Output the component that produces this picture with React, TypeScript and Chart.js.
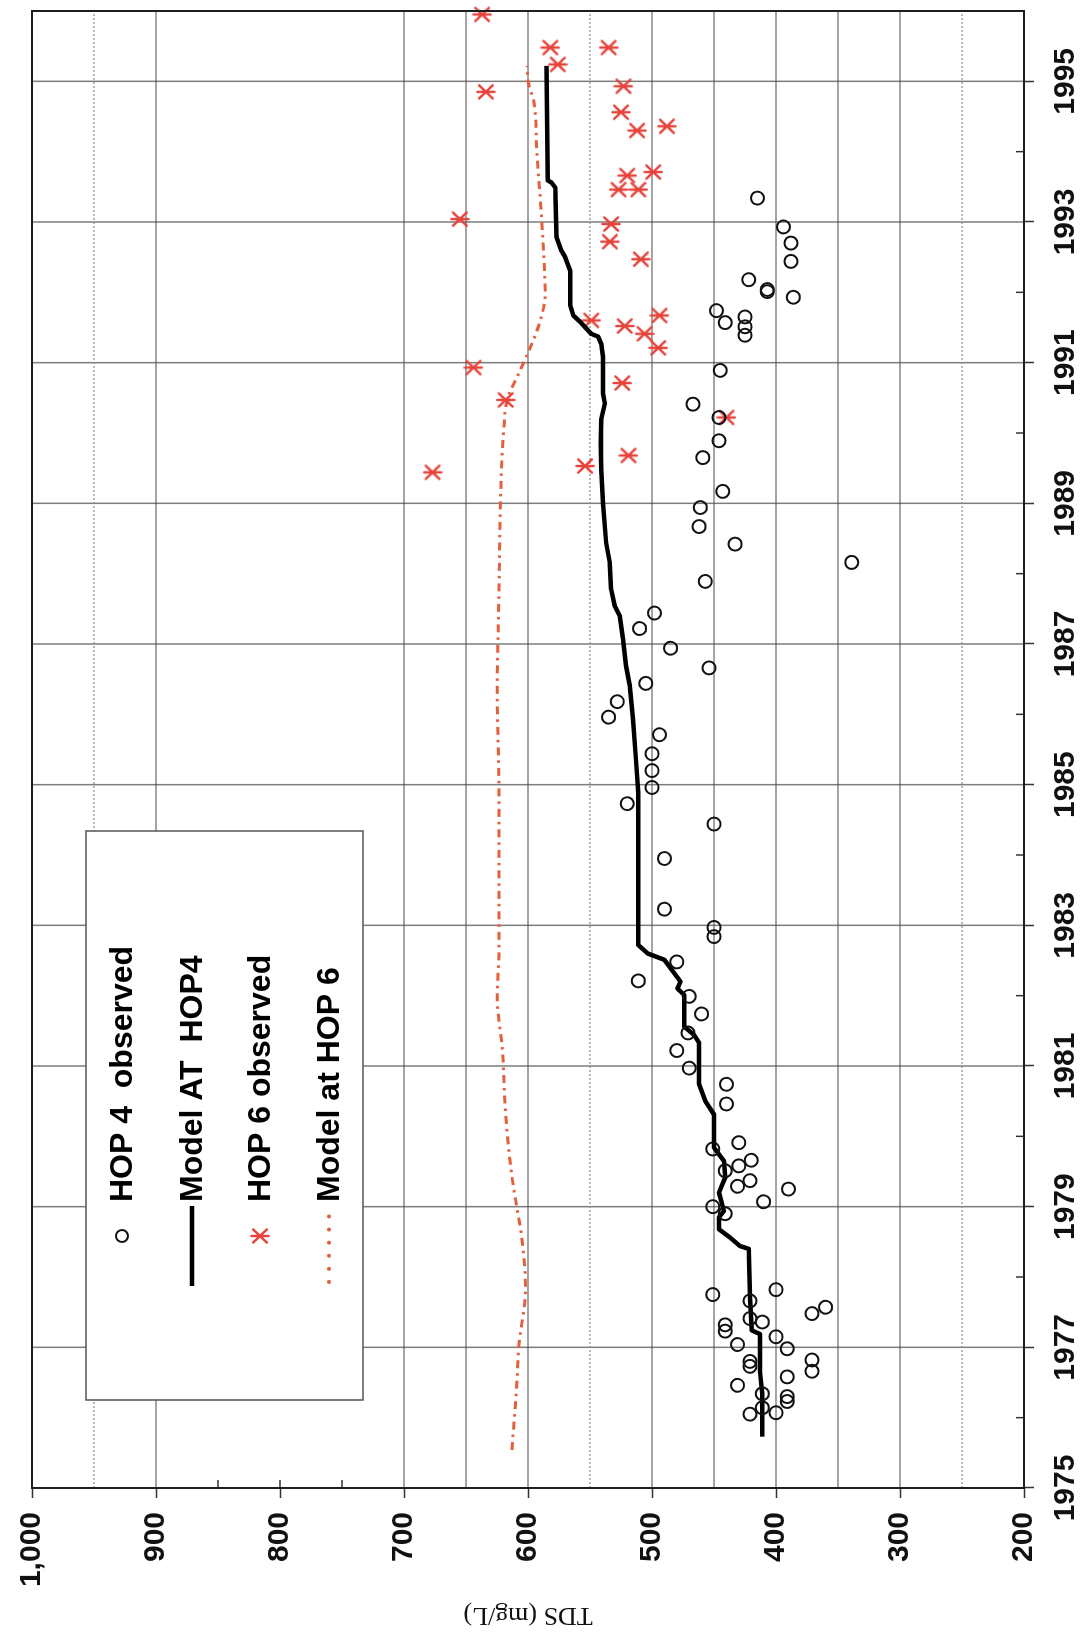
import React, { useEffect, useRef } from "react";
import { Chart, registerables } from "chart.js";

Chart.register(...registerables);

// Axis ticks and grid positions
const yearTicks = [1975, 1977, 1979, 1981, 1983, 1985, 1987, 1989, 1991, 1993, 1995];
const yearMinorTicks = [1976, 1978, 1980, 1982, 1984, 1986, 1988, 1990, 1992, 1994];
const tdsTicks = [200, 300, 400, 500, 600, 700, 800, 900, 1000];
const tdsSolidGrid = [300, 350, 400, 450, 500, 600, 650, 700, 900];
const tdsDottedGrid = [250, 550, 950];
const tdsMinorTicks = [750, 800, 850];

// HOP 4 observed TDS (mg/L)
const hop4Years = [
  1976.05, 1976.07, 1976.14, 1976.23, 1976.3, 1976.34, 1976.46, 1976.58, 1976.66, 1976.73,
  1976.8, 1976.82, 1976.98, 1977.04, 1977.15, 1977.23, 1977.32, 1977.36, 1977.41, 1977.48,
  1977.57, 1977.66, 1977.75, 1977.82, 1978.9, 1979.0, 1979.07, 1979.25, 1979.29, 1979.37,
  1979.51, 1979.58, 1979.66, 1979.82, 1979.91, 1980.46, 1980.74, 1980.97, 1981.22, 1981.47,
  1981.74, 1981.99, 1982.21, 1982.48, 1982.84, 1982.97, 1983.23, 1983.95, 1984.44, 1984.73,
  1984.96, 1985.2, 1985.44, 1985.71, 1985.96, 1986.18, 1986.44, 1986.66, 1986.94, 1987.22,
  1987.44, 1987.89, 1988.16, 1988.42, 1988.67, 1988.94, 1989.17, 1989.65, 1989.89, 1990.22,
  1990.41, 1990.89, 1991.39, 1991.51, 1991.57, 1991.65, 1991.74, 1991.93, 1992.01, 1992.04,
  1992.18, 1992.44, 1992.7, 1992.93, 1993.34,
];
const hop4Tds = [
  421, 400, 411, 391, 391, 411, 431, 391, 371, 421,
  421, 371, 391, 431, 400, 441, 441, 411, 421, 371,
  360, 421, 451, 400, 441, 451, 410, 390, 431, 421,
  441, 430, 420, 451, 430, 440, 440, 470, 480, 471,
  460, 470, 511, 480, 450, 450, 490, 490, 450, 520,
  500, 500, 500, 494, 535, 528, 505, 454, 485, 510,
  498, 457, 339, 433, 462, 461, 443, 459, 446, 446,
  467, 445, 425, 425, 441, 425, 448, 386, 407, 407,
  422, 388, 388, 394, 415,
];

// Model at HOP4
const modelHop4Years = [
  1975.73, 1976.34, 1976.67, 1977.19, 1977.24, 1977.71, 1978.4, 1978.44, 1978.56, 1978.68,
  1978.85, 1978.94, 1979.2, 1979.37, 1979.41, 1979.65, 1979.84, 1980.31, 1980.5, 1980.74,
  1981.33, 1981.44, 1981.56, 1982.01, 1982.1, 1982.2, 1982.39, 1982.51, 1982.6, 1982.72,
  1984.89, 1985.37, 1985.93, 1986.41, 1986.69, 1987.07, 1987.4, 1987.54, 1987.78, 1988.15,
  1988.44, 1989.0, 1989.48, 1989.85, 1990.19, 1990.42, 1990.56, 1991.08, 1991.27, 1991.37,
  1991.41, 1991.58, 1991.67, 1991.82, 1992.31, 1992.5, 1992.59, 1992.78, 1993.49, 1993.56,
  1993.59, 1995.22,
];
const modelHop4Tds = [
  411, 411, 413, 413, 419.5, 421, 422, 429, 437, 446,
  446, 442, 446, 442, 441, 442, 450, 450, 457, 462,
  462, 466, 474, 474, 479.5, 477, 485, 490, 503.5, 511,
  511, 513, 515.4, 518, 521, 523.4, 526, 530, 533, 534,
  537, 539.5, 541, 541.3, 541, 538, 539.5, 539.5, 541, 543.4,
  549, 558, 563.4, 566, 566, 570, 573, 577, 578, 581,
  584, 585,
];

// HOP 6 observed TDS (mg/L)
const hop6Years = [
  1989.44, 1989.53, 1989.68, 1990.22, 1990.47, 1990.71, 1990.93, 1991.21, 1991.41, 1991.52,
  1991.6, 1991.67, 1992.47, 1992.72, 1992.97, 1993.04, 1993.46, 1993.46, 1993.66, 1993.71,
  1994.3, 1994.36, 1994.56, 1994.85, 1994.93, 1995.24, 1995.48, 1995.48, 1995.95,
];
const hop6Tds = [
  677, 554, 519, 440, 618, 524, 644, 495, 506, 522,
  549, 494, 509, 534, 533, 655, 527, 511, 520, 499,
  512, 488, 525, 634, 523, 576, 582, 535, 637,
];

// Model at HOP 6
const modelHop6Years = [
  1975.54, 1976.48, 1977.0, 1977.85, 1978.56, 1978.99, 1979.41, 1980.31, 1981.26, 1981.96,
  1982.68, 1984.89, 1986.31, 1987.73, 1989.15, 1990.09, 1990.47, 1990.85, 1991.22, 1991.6,
  1991.98, 1992.31, 1993.16, 1993.97, 1994.72, 1994.96, 1995.22,
];
const modelHop6Tds = [
  613, 609, 607.5, 602, 605, 609, 612.8, 618, 620.8, 624.8,
  623.4, 623.4, 624.8, 623.4, 622, 619.4, 616.8, 607.4, 598, 590.1,
  586.1, 586.7, 589.4, 592.8, 595.4, 599.4, 600.8,
];

const legendLabels = ["HOP 4  observed", "Model AT  HOP4", "HOP 6 observed", "Model at HOP 6"];

const CANVAS_W = 1638;
const CANVAS_H = 1092;
const STAR_RED = "#e6433a";
const MODEL6_COLOR = "#e2603c";

const pts = (xs: number[], ys: number[]) => xs.map((x, i) => ({ x, y: ys[i] }));

// Asterisk marker: a cross of two diagonals plus one straight bar
function makeStar(size: number, color: string): HTMLCanvasElement {
  const c = document.createElement("canvas");
  c.width = size;
  c.height = size;
  const g = c.getContext("2d")!;
  const m = size / 2;
  const r = size / 2 - 1.5;
  g.strokeStyle = color;
  g.lineWidth = 2.4;
  g.lineCap = "round";
  g.beginPath();
  g.moveTo(m - r * 0.78, m - r * 0.8);
  g.lineTo(m + r * 0.78, m + r * 0.8);
  g.moveTo(m + r * 0.78, m - r * 0.8);
  g.lineTo(m - r * 0.78, m + r * 0.8);
  g.moveTo(m, m - r);
  g.lineTo(m, m + r);
  g.stroke();
  return c;
}

export default function App() {
  const canvasRef = useRef<HTMLCanvasElement | null>(null);

  useEffect(() => {
    const canvas = canvasRef.current;
    if (!canvas) return;
    const star = makeStar(20, STAR_RED);

    const gridAndLegend = {
      id: "gridAndLegend",
      beforeDatasetsDraw(chart: any) {
        const { ctx, chartArea: a, scales } = chart;
        const xs = scales.x;
        const ys = scales.y;
        ctx.save();
        // year grid lines
        ctx.strokeStyle = "#7c7c7c";
        ctx.lineWidth = 1.5;
        yearTicks.forEach((yr) => {
          const px = xs.getPixelForValue(yr);
          ctx.beginPath();
          ctx.moveTo(px, a.top);
          ctx.lineTo(px, a.bottom);
          ctx.stroke();
        });
        // TDS grid lines
        ctx.strokeStyle = "#4a4a4a";
        ctx.lineWidth = 1.2;
        tdsSolidGrid.forEach((v) => {
          const py = ys.getPixelForValue(v);
          ctx.beginPath();
          ctx.moveTo(a.left, py);
          ctx.lineTo(a.right, py);
          ctx.stroke();
        });
        ctx.strokeStyle = "#8a8a8a";
        ctx.setLineDash([2, 2]);
        tdsDottedGrid.forEach((v) => {
          const py = ys.getPixelForValue(v);
          ctx.beginPath();
          ctx.moveTo(a.left, py);
          ctx.lineTo(a.right, py);
          ctx.stroke();
        });
        ctx.setLineDash([]);
        // inner minor ticks
        ctx.strokeStyle = "#333";
        ctx.lineWidth = 1.5;
        yearMinorTicks.forEach((yr) => {
          const px = xs.getPixelForValue(yr);
          ctx.beginPath();
          ctx.moveTo(px, a.bottom);
          ctx.lineTo(px, a.bottom - 8);
          ctx.stroke();
        });
        tdsMinorTicks.forEach((v) => {
          const py = ys.getPixelForValue(v);
          ctx.beginPath();
          ctx.moveTo(a.left, py);
          ctx.lineTo(a.left + 8, py);
          ctx.stroke();
        });

        // legend
        const bx = 238, by = 86, bw = 569, bh = 277;
        ctx.fillStyle = "#ffffff";
        ctx.fillRect(bx, by, bw, bh);
        ctx.strokeStyle = "#555";
        ctx.lineWidth = 1.5;
        ctx.strokeRect(bx, by, bw, bh);
        const rows = [122, 192, 260, 329];
        const mx = 402, lx0 = 352, lx1 = 432, tx = 436;
        // circle
        ctx.strokeStyle = "#111";
        ctx.lineWidth = 2;
        ctx.beginPath();
        ctx.arc(mx, rows[0], 6, 0, Math.PI * 2);
        ctx.stroke();
        // solid model line
        ctx.strokeStyle = "#000";
        ctx.lineWidth = 4.5;
        ctx.beginPath();
        ctx.moveTo(lx0, rows[1]);
        ctx.lineTo(lx1, rows[1]);
        ctx.stroke();
        // star
        ctx.drawImage(star, mx - star.width / 2, rows[2] - star.height / 2);
        // dotted model line
        ctx.strokeStyle = MODEL6_COLOR;
        ctx.lineWidth = 4;
        ctx.lineCap = "round";
        ctx.setLineDash([0.1, 13]);
        ctx.beginPath();
        ctx.moveTo(lx0 + 4, rows[3]);
        ctx.lineTo(lx1, rows[3]);
        ctx.stroke();
        ctx.setLineDash([]);
        ctx.lineCap = "butt";
        ctx.fillStyle = "#000";
        ctx.font = "bold 32px 'Liberation Sans', Arial, sans-serif";
        ctx.textBaseline = "middle";
        ctx.textAlign = "left";
        legendLabels.forEach((t, i) => ctx.fillText(t, tx, rows[i] + 1));
        ctx.restore();
      },
      afterDatasetsDraw(chart: any) {
        const { ctx, chartArea: a } = chart;
        ctx.save();
        ctx.strokeStyle = "#1e1e1e";
        ctx.lineWidth = 2;
        ctx.strokeRect(a.left, a.top, a.right - a.left, a.bottom - a.top);
        ctx.restore();
      },
    };

    const tickFont = { family: "'Liberation Sans', Arial, sans-serif", weight: "bold" as const, size: 30 };

    const chart = new Chart(canvas, {
      type: "scatter",
      data: {
        datasets: [
          {
            label: legendLabels[0],
            data: pts(hop4Years, hop4Tds),
            pointStyle: "circle",
            pointRadius: 6.5,
            pointBorderWidth: 2,
            borderColor: "#111",
            backgroundColor: "rgba(0,0,0,0)",
            showLine: false,
            clip: false,
          },
          {
            type: "line",
            label: legendLabels[1],
            data: pts(modelHop4Years, modelHop4Tds),
            borderColor: "#000",
            borderWidth: 4.5,
            pointRadius: 0,
            tension: 0,
            fill: false,
            borderJoinStyle: "round",
          },
          {
            label: legendLabels[2],
            data: pts(hop6Years, hop6Tds),
            pointStyle: star,
            pointRadius: 10,
            borderColor: STAR_RED,
            backgroundColor: STAR_RED,
            showLine: false,
            clip: false,
          },
          {
            type: "line",
            label: legendLabels[3],
            data: pts(modelHop6Years, modelHop6Tds),
            borderColor: MODEL6_COLOR,
            borderWidth: 3,
            borderDash: [8, 5, 2.5, 5],
            pointRadius: 0,
            cubicInterpolationMode: "monotone",
            fill: false,
          },
        ],
      } as any,
      options: {
        responsive: false,
        maintainAspectRatio: false,
        animation: false,
        devicePixelRatio: 1,
        layout: { padding: { top: 26, right: 6, bottom: 0, left: 0 } },
        plugins: { legend: { display: false }, tooltip: { enabled: false } },
        scales: {
          x: {
            type: "linear",
            position: "bottom",
            min: 1975,
            max: 1996,
            afterBuildTicks: (s: any) => {
              s.ticks = yearTicks.map((v) => ({ value: v }));
            },
            afterFit: (s: any) => {
              s.height = 68;
            },
            grid: { drawOnChartArea: false, drawTicks: true, tickLength: 10, tickColor: "#333", tickWidth: 1.5 },
            border: { display: false },
            ticks: {
              font: tickFont,
              color: "#111",
              padding: 14,
              maxRotation: 0,
              minRotation: 0,
              autoSkip: false,
              callback: (v: any) => String(v),
            },
          },
          y: {
            type: "linear",
            position: "left",
            min: 200,
            max: 1000,
            afterBuildTicks: (s: any) => {
              s.ticks = tdsTicks.map((v) => ({ value: v }));
            },
            afterFit: (s: any) => {
              s.width = 150;
            },
            grid: { drawOnChartArea: false, drawTicks: true, tickLength: 10, tickColor: "#333", tickWidth: 1.5 },
            border: { display: false },
            ticks: {
              font: tickFont,
              color: "#111",
              padding: 14,
              autoSkip: false,
              callback: (v: any) => Number(v).toLocaleString("en-US"),
            },
            title: {
              display: true,
              text: "TDS (mg/L)",
              color: "#111",
              font: { family: "'Liberation Serif', 'Times New Roman', serif", size: 26, weight: "normal" },
              padding: { top: 8, bottom: 0 },
            },
          },
        },
      } as any,
      plugins: [gridAndLegend],
    });

    return () => chart.destroy();
  }, []);

  return (
    <div
      style={{
        position: "absolute",
        left: 0,
        top: 0,
        width: 1092,
        height: 1638,
        overflow: "hidden",
        background: "#fff",
      }}
    >
      <div
        style={{
          position: "absolute",
          left: 0,
          top: 0,
          width: CANVAS_W,
          height: CANVAS_H,
          transformOrigin: "0 0",
          transform: `translate(0px, ${CANVAS_W}px) rotate(-90deg)`,
        }}
      >
        <canvas
          ref={canvasRef}
          width={CANVAS_W}
          height={CANVAS_H}
          style={{ display: "block", width: CANVAS_W, height: CANVAS_H }}
        />
      </div>
    </div>
  );
}
